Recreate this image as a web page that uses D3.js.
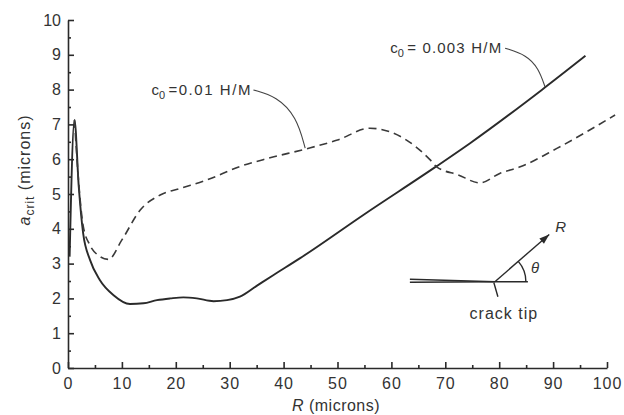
<!DOCTYPE html>
<html><head><meta charset="utf-8">
<script src="https://cdn.jsdelivr.net/npm/d3@7"></script>
<style>
html,body{margin:0;padding:0;background:#fff;}
svg{display:block;font-family:"Liberation Sans",Arial,sans-serif;}
</style></head>
<body>
<svg id="chart" width="624" height="415"></svg>
<script>
// ---- data ----
const xTicks = [0,10,20,30,40,50,60,70,80,90,100];
const yTicks = [0,1,2,3,4,5,6,7,8,9,10];
const xMinorTicks = [5,15,25,35,45,55,65,75,85,95];
const yMinorTicks = [0.5,1.5,2.5,3.5,4.5,5.5,6.5,7.5,8.5,9.5];

// c0 = 0.003 H/M (solid)
const solidR = [0.3,1.2,2.0,2.8,4.1,5.9,8.4,11.5,14,16.5,19,21.4,23.9,27,29.5,31.9,35,38,43,55,68.4,74.6,87.9,96];
const solidA = [3.2,7.13,5.2,3.88,3.1,2.53,2.1,1.84,1.86,1.95,2.0,2.03,2.0,1.92,1.95,2.05,2.36,2.66,3.15,4.42,5.8,6.46,7.99,8.97];

// c0 = 0.01 H/M (dashed)
const dashR = [1.2,2.0,2.8,4.0,5.5,7.5,10,13.4,17.1,20.8,25.7,31.9,37,44.3,50,56.0,62.8,67.2,68.4,72.4,76.4,80.1,83.9,90.7,101.5];
const dashA = [7.13,5.3,4.1,3.55,3.25,3.12,3.68,4.54,4.97,5.16,5.4,5.79,6.02,6.3,6.55,6.89,6.55,5.98,5.78,5.55,5.32,5.59,5.78,6.31,7.27];

// annotation anchors (data units)
const leader01 = [[34.4,7.99],[38.7,7.80],[42.4,7.22],[44.0,6.32]];
const leader003 = [[81.1,9.19],[85.1,8.99],[87.3,8.61],[88.5,8.08]];
const crackTip = [79.2,2.48];

// ---- scales ----
const svg = d3.select("#chart");
const x = d3.scaleLinear().domain([0,100]).range([68,607]);
const y = d3.scaleLinear().domain([0,10]).range([368,20]);
const ink = "#2a2a2a";

// axes
const gx = svg.append("g").attr("transform","translate(0,368)")
  .call(d3.axisBottom(x).tickValues(xTicks).tickSize(-6).tickSizeOuter(0).tickPadding(10).tickFormat(d3.format("d")));
const gxm = svg.append("g").attr("transform","translate(0,368)")
  .call(d3.axisBottom(x).tickValues(xMinorTicks).tickSize(-3).tickSizeOuter(0).tickFormat(""));
const gy = svg.append("g").attr("transform","translate(68,0)")
  .call(d3.axisLeft(y).tickValues(yTicks).tickSize(-6).tickSizeOuter(0).tickPadding(7).tickFormat(d3.format("d")));
const gym = svg.append("g").attr("transform","translate(68,0)")
  .call(d3.axisLeft(y).tickValues(yMinorTicks).tickSize(-3).tickSizeOuter(0).tickFormat(""));
gxm.select(".domain").remove(); gym.select(".domain").remove();
[gx,gy,gxm,gym].forEach(g=>{
  g.selectAll("path,line").attr("stroke",ink).attr("stroke-width",1.6);
  g.selectAll("text").attr("fill","#333").style("font-size","16px").style("font-family","'Liberation Sans',Arial,sans-serif");
});
gx.selectAll("text").style("letter-spacing","1px");

// lines
const line = d3.line().x(d=>x(d[0])).y(d=>y(d[1])).curve(d3.curveMonotoneX);
svg.append("path").datum(solidR.map((r,i)=>[r,solidA[i]]))
  .attr("d",line).attr("fill","none").attr("stroke",ink).attr("stroke-width",1.9);
svg.append("path").datum(dashR.map((r,i)=>[r,dashA[i]]))
  .attr("d",line).attr("fill","none").attr("stroke","#3a3a3a").attr("stroke-width",1.6)
  .attr("stroke-dasharray","8,5");

// leaders
const lead = d3.line().x(d=>x(d[0])).y(d=>y(d[1])).curve(d3.curveBasis);
[leader01,leader003].forEach(L=>{
  svg.append("path").attr("d",lead(L)).attr("fill","none").attr("stroke","#444").attr("stroke-width",1.1);
});

// labels c0
function cLabel(xEnd, yBase, rest, width){
  const g = svg.append("g").attr("fill","#333").style("font-size","15px");
  const t = g.append("text").attr("x",xEnd).attr("y",yBase).attr("text-anchor","end")
     .attr("textLength",width).attr("lengthAdjust","spacing");
  t.text(rest);
  const cx = xEnd - width;
  g.append("text").attr("x",cx-17).attr("y",yBase).text("c");
  g.append("text").attr("x",cx-9.5).attr("y",yBase+4).style("font-size","11px").text("0");
}
cLabel(x(leader01[0][0])-3, y(leader01[0][1])+5, "=0.01 H/M", 82);
cLabel(x(leader003[0][0])-4, y(leader003[0][1])+5, " = 0.003 H/M", 94);

// axis titles
const yl = svg.append("text").attr("transform","translate(30,170) rotate(-90)")
  .attr("text-anchor","middle").attr("fill","#333").style("font-size","16px").style("letter-spacing","1px");
yl.append("tspan").style("font-style","italic").text("a");
yl.append("tspan").attr("dy",4).style("font-size","12px").text("crit");
yl.append("tspan").attr("dy",-4).text(" (microns)");

const xl = svg.append("text").attr("x",336).attr("y",411).attr("text-anchor","middle")
  .attr("fill","#333").style("font-size","16px").style("letter-spacing","0.5px");
xl.append("tspan").style("font-style","italic").text("R");
xl.append("tspan").text("  (microns)");

// crack-tip inset
const tx = x(crackTip[0]), ty = y(crackTip[1]);
const ins = svg.append("g").attr("stroke",ink).attr("fill","none").attr("stroke-width",1.4);
ins.append("line").attr("x1",tx-85).attr("y1",ty-2.5).attr("x2",tx).attr("y2",ty);
ins.append("line").attr("x1",tx-85).attr("y1",ty+0.5).attr("x2",tx).attr("y2",ty);
ins.append("line").attr("x1",tx).attr("y1",ty).attr("x2",tx+33).attr("y2",ty);
const ang = 41*Math.PI/180, len = 72;
const ex = tx+len*Math.cos(ang), ey = ty-len*Math.sin(ang);
ins.append("line").attr("x1",tx).attr("y1",ty).attr("x2",ex).attr("y2",ey);
// arrowhead
const ah = 10, aw = 3.5;
const bx = ex-ah*Math.cos(ang), by = ey+ah*Math.sin(ang);
const px = Math.sin(ang)*aw, py = Math.cos(ang)*aw;
svg.append("path").attr("d",`M${ex},${ey}L${bx+px},${by+py}L${bx-px},${by-py}Z`).attr("fill",ink);
// angle arc
const arc = d3.arc().innerRadius(31).outerRadius(31).startAngle(Math.PI/2 - ang).endAngle(Math.PI/2);
ins.append("path").attr("transform",`translate(${tx},${ty})`).attr("d",arc());
// tip pointer
ins.append("line").attr("x1",tx-1).attr("y1",ty+1).attr("x2",tx+3).attr("y2",ty+15);
svg.append("text").attr("x",tx+36).attr("y",ty-9).attr("fill","#333").style("font-size","15px").style("font-style","italic").text("θ");
svg.append("text").attr("x",ex+6).attr("y",ey-2).attr("fill","#333").style("font-size","15px").style("font-style","italic").text("R");
svg.append("text").attr("x",tx+9).attr("y",ty+37).attr("text-anchor","middle").attr("fill","#333").style("font-size","16px").style("letter-spacing","1px").text("crack  tip");
</script>
</body></html>
